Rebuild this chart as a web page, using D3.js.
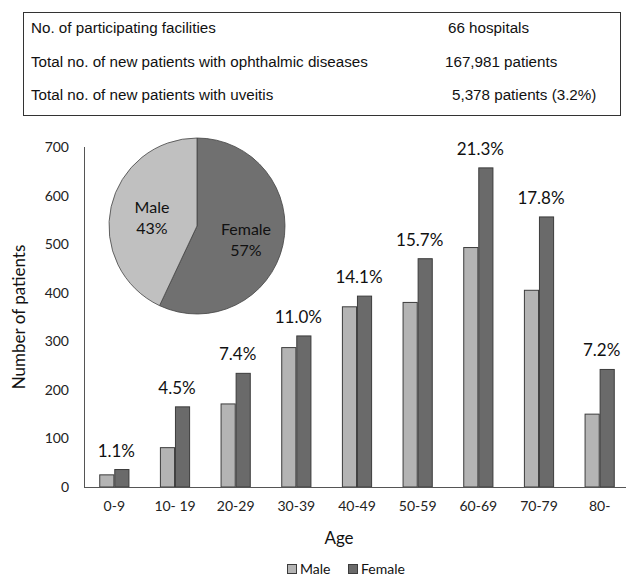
<!DOCTYPE html>
<html>
<head>
<meta charset="utf-8">
<script src="https://cdn.jsdelivr.net/npm/d3@7"></script>
<style>
  body { margin: 0; background: #fff; }
  svg { display: block; }
</style>
</head>
<body>
<svg id="chart"></svg>
<script>
const width = 630, height = 578;

// summary table
const tableRows = [
  ["No. of participating facilities", "66 hospitals"],
  ["Total no. of new patients with ophthalmic diseases", "167,981 patients"],
  ["Total no. of new patients with uveitis", "5,378 patients (3.2%)"]
];

const ages = ["0-9", "10- 19", "20-29", "30-39", "40-49", "50-59", "60-69", "70-79", "80-"];
const maleCounts = [25, 81, 171, 287, 371, 380, 493, 405, 150];
const femaleCounts = [36, 165, 234, 311, 393, 470, 657, 556, 242];
const agePercents = ["1.1%", "4.5%", "7.4%", "11.0%", "14.1%", "15.7%", "21.3%", "17.8%", "7.2%"];
const yTicks = [0, 100, 200, 300, 400, 500, 600, 700];

const sexes = ["Male", "Female"];
const sexShares = [43, 57];

const barColor = { Male: "#b4b4b4", Female: "#6a6a6a" };
const pieColor = { Male: "#c0c0c0", Female: "#707070" };

const svg = d3.select("#chart").attr("width", width).attr("height", height);

// ---- table box
const box = { x: 23, y: 12, w: 597, h: 103 };
svg.append("rect")
  .attr("x", box.x + 0.5).attr("y", box.y + 0.5)
  .attr("width", box.w).attr("height", box.h)
  .attr("fill", "none").attr("stroke", "#333").attr("stroke-width", 1);

const rowY = d3.scalePoint().domain(d3.range(tableRows.length)).range([28, 95]);
const rowRightX = [448, 445, 452];
const rows = svg.append("g")
  .style("font-family", "'Liberation Sans', Arial, sans-serif")
  .style("font-size", "15.2px")
  .attr("fill", "#111");
rows.selectAll("text.lab").data(tableRows).join("text")
  .attr("class", "lab")
  .attr("x", 31).attr("y", (d, i) => rowY(i)).attr("dy", "0.35em")
  .text(d => d[0]);
rows.selectAll("text.val").data(tableRows).join("text")
  .attr("class", "val")
  .attr("x", (d, i) => rowRightX[i]).attr("y", (d, i) => rowY(i)).attr("dy", "0.35em")
  .text(d => d[1]);

// ---- bar chart
const margin = { top: 147, right: 0, bottom: 91, left: 84 };
const x0 = d3.scaleBand().domain(ages).range([margin.left, width]).paddingInner(0).paddingOuter(0);
const x1 = d3.scaleBand().domain(sexes).range([0, 31]).padding(0.06);
const y = d3.scaleLinear().domain([0, 700]).range([height - margin.bottom, margin.top]);

const chartFont = "Lato, 'Open Sans', sans-serif";

const yAxis = svg.append("g")
  .attr("transform", `translate(${margin.left},0)`)
  .call(d3.axisLeft(y).tickValues(yTicks).tickSize(0).tickPadding(15));
yAxis.select(".domain").attr("stroke", "#555").attr("d", `M0.5,${y(0)}V${y(700)}`);
yAxis.selectAll("text").style("font-family", chartFont).style("font-size", "14px").attr("fill", "#222");

const groupOffset = (x0.bandwidth() - 31) / 2;
const groups = svg.append("g").selectAll("g").data(ages).join("g")
  .attr("transform", d => `translate(${x0(d) + groupOffset},0)`);

groups.selectAll("rect").data((d, i) => sexes.map(s => ({ s, v: s === "Male" ? maleCounts[i] : femaleCounts[i] })))
  .join("rect")
  .attr("x", d => x1(d.s))
  .attr("y", d => y(d.v))
  .attr("width", x1.bandwidth())
  .attr("height", d => y(0) - y(d.v))
  .attr("fill", d => barColor[d.s])
  .attr("stroke", "#3c3c3c")
  .attr("stroke-width", 1);

svg.append("g").selectAll("text").data(ages).join("text")
  .attr("x", d => x0(d) + x0.bandwidth() / 2 + 2)
  .attr("y", (d, i) => y(femaleCounts[i]) - 13)
  .attr("text-anchor", "middle")
  .style("font-family", chartFont).style("font-size", "17px").attr("fill", "#111")
  .text((d, i) => agePercents[i]);

const xAxis = svg.append("g")
  .attr("transform", `translate(0,${y(0)})`)
  .call(d3.axisBottom(x0).tickSize(0).tickPadding(14));
xAxis.select(".domain").attr("stroke", "#555").attr("d", `M${margin.left},0.5H${width - 4}`);
xAxis.selectAll("text").style("font-family", chartFont).style("font-size", "14px").attr("fill", "#222");

svg.append("text")
  .attr("x", 339).attr("y", 544)
  .attr("text-anchor", "middle")
  .style("font-family", chartFont).style("font-size", "17px").attr("fill", "#111")
  .text("Age");

svg.append("text")
  .attr("transform", `translate(25,${(y(0) + y(700)) / 2}) rotate(-90)`)
  .attr("text-anchor", "middle")
  .style("font-family", chartFont).style("font-size", "17px").attr("fill", "#111")
  .text("Number of patients");

// ---- legend
const legendX = [287, 348];
const legend = svg.append("g").selectAll("g").data(sexes).join("g")
  .attr("transform", (d, i) => `translate(${legendX[i]},564)`);
legend.append("rect")
  .attr("x", 0.5).attr("y", 0.5).attr("width", 9).attr("height", 9)
  .attr("fill", d => barColor[d]).attr("stroke", "#3c3c3c");
legend.append("text")
  .attr("x", 13).attr("y", 5).attr("dy", "0.35em")
  .style("font-family", chartFont).style("font-size", "14px").attr("fill", "#111")
  .text(d => d);

// ---- pie inset
const pieCx = 197, pieCy = 226, pieR = 88;
const pie = d3.pie().sort(null).value(d => d.v);
const pieData = pie(sexes.map((s, i) => ({ s, v: sexShares[i] })).reverse());
// Female runs clockwise from 12 o'clock, Male fills the rest
const arc = d3.arc().innerRadius(0).outerRadius(pieR);
const pieG = svg.append("g").attr("transform", `translate(${pieCx},${pieCy})`);
pieG.selectAll("path").data(pieData).join("path")
  .attr("d", arc)
  .attr("fill", d => pieColor[d.data.s])
  .attr("stroke", "#444").attr("stroke-width", 0.8);

const pieLabelPos = { Male: [-45, -8], Female: [49, 14] };
const pieLabels = pieG.selectAll("text").data(pieData).join("text")
  .attr("text-anchor", "middle")
  .attr("transform", d => `translate(${pieLabelPos[d.data.s][0]},${pieLabelPos[d.data.s][1]})`)
  .style("font-family", chartFont).style("font-size", "16px").attr("fill", "#111");
pieLabels.append("tspan").attr("x", 0).attr("y", -5).text(d => d.data.s);
pieLabels.append("tspan").attr("x", 0).attr("y", 16).text(d => d.data.v + "%");
</script>
</body>
</html>
